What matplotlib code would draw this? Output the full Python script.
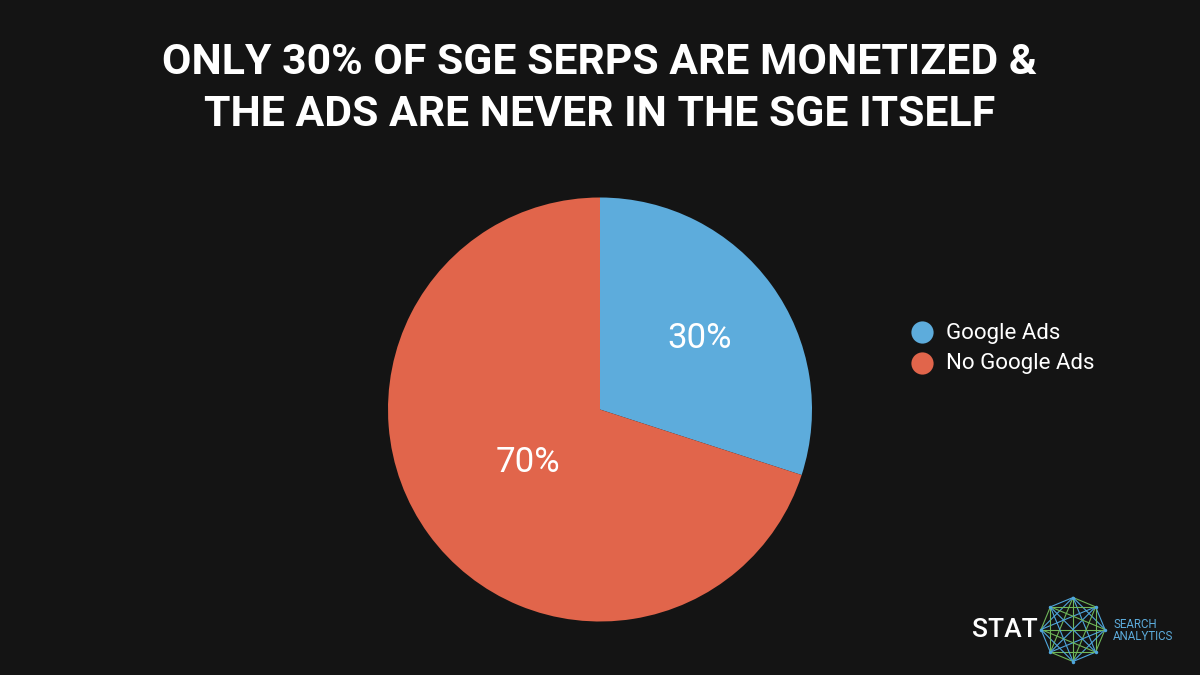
import matplotlib
matplotlib.use('Agg')
import matplotlib.pyplot as plt
from matplotlib.lines import Line2D
import numpy as np

labels = ['Google Ads', 'No Google Ads']
values = [30, 70]
colors = ['#5dacdc', '#e1654b']
title_lines = ['ONLY 30% OF SGE SERPS ARE MONETIZED &', 'THE ADS ARE NEVER IN THE SGE ITSELF']
bg = '#141414'

plt.rcParams['font.family'] = ['Roboto', 'DejaVu Sans']

fig = plt.figure(figsize=(12, 6.75), dpi=100, facecolor=bg)

# pie, centre at 600,409 radius 212 px
ax = fig.add_axes([388 / 1200, 1 - 621.5 / 675, 424 / 1200, 424 / 675])
wedges, texts = ax.pie(values, colors=colors, startangle=90, counterclock=False, radius=1)
ax.set_xlim(-1, 1)
ax.set_ylim(-1, 1)

# overlay in pixel coords for the text
ov = fig.add_axes([0, 0, 1, 1])
ov.set_xlim(0, 1200)
ov.set_ylim(675, 0)
ov.axis('off')
ov.patch.set_alpha(0)

ov.text(600, 62, title_lines[0], color='white', fontsize=30.8, fontweight='bold', ha='center', va='center')
ov.text(600, 114, title_lines[1], color='white', fontsize=30.8, fontweight='bold', ha='center', va='center')

ov.text(699.5, 339, '30%', color='white', fontsize=25, ha='center', va='center')
ov.text(527.5, 463, '70%', color='white', fontsize=25, ha='center', va='center')

# legend
ov.plot(922, 332, 'o', ms=16, color=colors[0], mew=0)
ov.plot(922, 363, 'o', ms=16, color=colors[1], mew=0)
ov.text(946, 333.5, labels[0], color='white', fontsize=16, va='center')
ov.text(946, 364, labels[1], color='white', fontsize=16, va='center')

# logo
ov.text(1005, 630, 'STAT', color='white', fontsize=19, fontweight='medium', ha='center', va='center')
ov.text(1113, 624, 'SEARCH', color='#5dacdc', fontsize=8.3, va='center')
ov.text(1113, 637, 'ANALYTICS', color='#5dacdc', fontsize=8.3, va='center')
ang = np.radians(np.arange(8) * 45 - 90)
lx = 1073 + 32 * np.cos(ang)
ly = 629.5 + 32 * np.sin(ang)
for i in range(8):
    for j in range(i + 1, 8):
        c = '#6fb65a' if (i + j) % 4 < 2 else '#4fa6dc'
        ov.add_line(Line2D([lx[i], lx[j]], [ly[i], ly[j]], color=c, lw=0.8))
ov.plot(lx, ly, 'o', ms=2.5, color='#4fa6dc', mew=0)

fig.savefig('out.png', dpi=100, facecolor=bg)
